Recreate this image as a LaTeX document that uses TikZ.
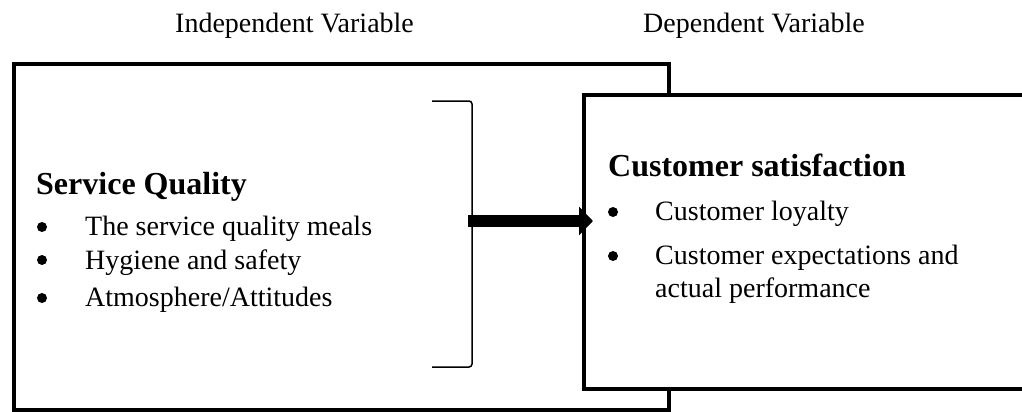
\documentclass[tikz,border=0pt]{standalone}
\usepackage{fontspec}
\setmainfont{Liberation Serif}
\usetikzlibrary{arrows.meta,calc}
\begin{document}
\begin{tikzpicture}[x=1pt,y=-1pt,
  frame/.style={draw, line width=4.5pt, rectangle, inner sep=0pt, outer sep=0pt, anchor=north west},
  txt/.style={inner sep=0pt, anchor=base west, font=\fontsize{28}{34}\selectfont},
  heading/.style={inner sep=0pt, anchor=base west, font=\fontsize{32}{38}\selectfont\bfseries},
  dot/.style={circle, fill, inner sep=0pt, minimum size=10pt},
  bracketline/.style={line width=1.5pt, rounded corners=3pt},
  bigarrow/.style={line width=12pt, -{Triangle[length=14pt,width=28pt]}}]
  \useasboundingbox (0,0) rectangle (1022,412);

  % column titles
  \node[txt] (ivtitle) at (175,33) {Independent Variable};
  \node[txt] (dvtitle) at (643,33) {Dependent Variable};

  % independent variable frame
  \node[frame, minimum width=655pt, minimum height=346pt] (iv) at (14,64) {};
  \node[heading] (sq) at (36,194) {Service Quality};
  \node[dot] (d1) at (42,227) {};
  \node[txt] (s1) at (85,235) {The service quality meals};
  \node[dot] (d2) at (42,260) {};
  \node[txt] (s2) at (85,269) {Hygiene and safety};
  \node[dot] (d3) at (42,298) {};
  \node[txt] (s3) at (85,306) {Atmosphere/Attitudes};

  % bracket grouping the dimensions
  \coordinate (b1) at (432,101);
  \coordinate (b2) at (472,101);
  \coordinate (b3) at (472,367);
  \coordinate (b4) at (432,367);
  \draw[bracketline] (b1) -- (b2) -- (b3) -- (b4);

  % dependent variable frame, laid over the first one
  \node[frame, fill=white, minimum width=460pt, minimum height=294pt] (dv) at (584,95) {};
  \node[heading] (cs) at (608,176) {Customer satisfaction};
  \node[dot] (e1) at (613,212) {};
  \node[txt] (c1) at (655,220) {Customer loyalty};
  \node[dot] (e2) at (613,256) {};
  \node[txt] (c2) at (655,264) {Customer expectations and};
  \node[txt] (c3) at (655,297) {actual performance};

  % relationship arrow
  \coordinate (start) at (468,221);
  \draw[bigarrow] (start) -- ($(start -| dv.west)+(9,0)$);
\end{tikzpicture}
\end{document}
